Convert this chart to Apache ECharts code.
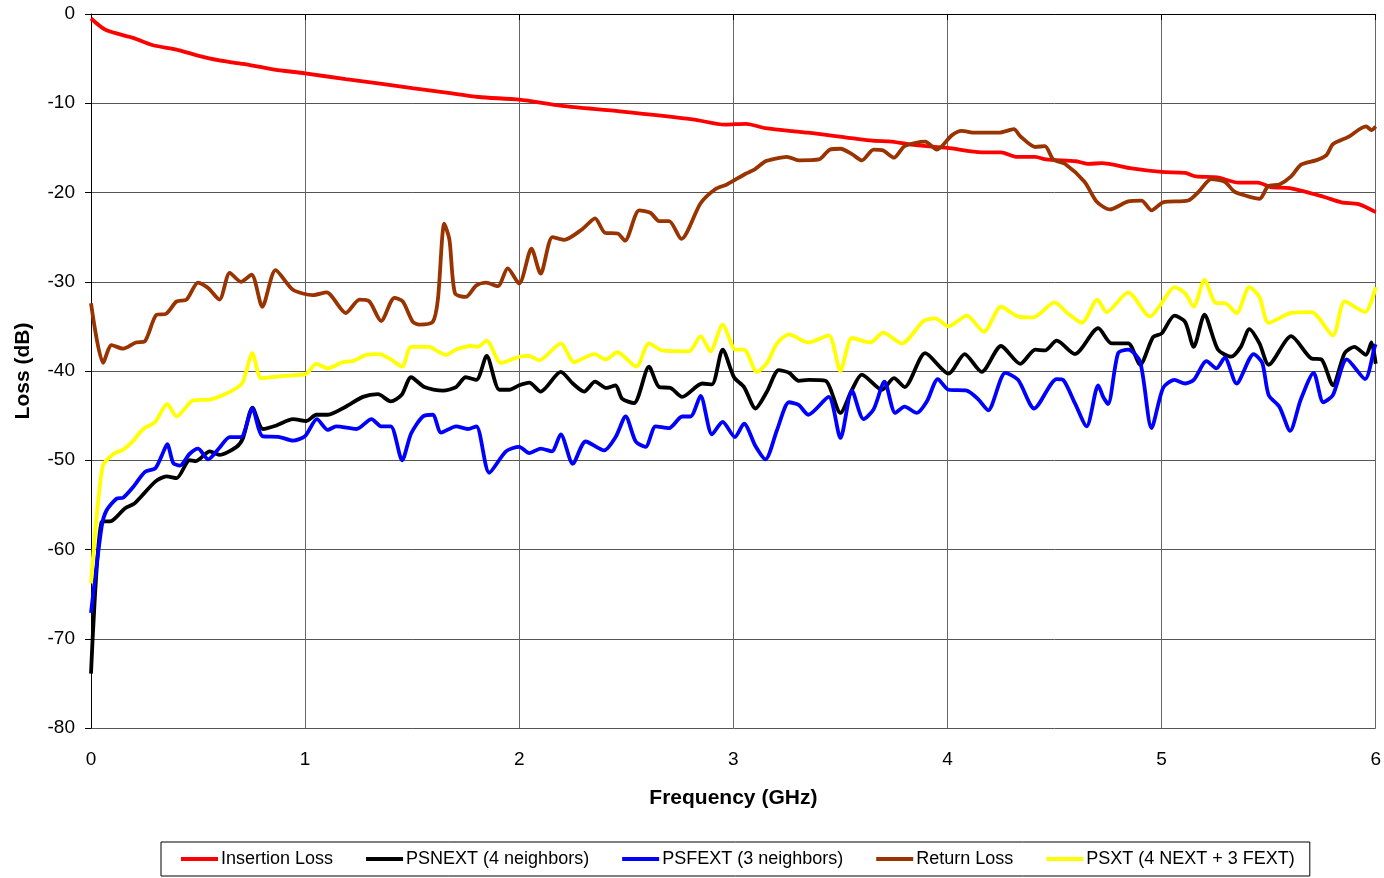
<!DOCTYPE html>
<html>
<head>
<meta charset="utf-8">
<title>Loss vs Frequency</title>
<script src="https://cdn.jsdelivr.net/npm/echarts@6/dist/echarts.min.js"></script>
<style>
  html, body { margin: 0; padding: 0; background: #fff; }
  #chart { width: 1384px; height: 878px; }
</style>
</head>
<body>
<div id="chart"></div>
<script>
// series names (legend order)
const seriesNames = ['Insertion Loss', 'PSNEXT (4 neighbors)', 'PSFEXT (3 neighbors)', 'Return Loss', 'PSXT (4 NEXT + 3 FEXT)'];

// [frequency GHz, loss dB]
const insertionLoss = [[0,-0.5],[0.07,-1.8],[0.2,-2.7],[0.29,-3.5],[0.4,-4.0],[0.49,-4.6],[0.6,-5.2],[0.71,-5.6],[0.85,-6.2],[1.0,-6.65],[1.19,-7.3],[1.35,-7.8],[1.5,-8.3],[1.66,-8.8],[1.81,-9.3],[2.0,-9.6],[2.2,-10.3],[2.47,-10.9],[2.81,-11.8],[2.96,-12.4],[3.06,-12.3],[3.15,-12.8],[3.35,-13.3],[3.65,-14.2],[3.74,-14.3],[3.85,-14.7],[4.0,-15.0],[4.16,-15.5],[4.25,-15.5],[4.32,-16.0],[4.41,-16.0],[4.46,-16.3],[4.6,-16.5],[4.66,-16.8],[4.72,-16.7],[4.86,-17.3],[5.0,-17.7],[5.11,-17.8],[5.16,-18.2],[5.26,-18.3],[5.36,-18.9],[5.45,-18.9],[5.51,-19.4],[5.6,-19.5],[5.76,-20.5],[5.84,-21.1],[5.92,-21.3],[6.0,-22.2]];

const psnext = [[0,-73.9],[0.05,-56.9],[0.096,-56.8],[0.158,-55.4],[0.205,-54.8],[0.30,-52.4],[0.353,-51.8],[0.40,-52.0],[0.46,-50.0],[0.49,-50.1],[0.555,-49.0],[0.60,-49.4],[0.68,-48.5],[0.71,-47.5],[0.754,-44.1],[0.803,-46.5],[0.866,-46.1],[0.943,-45.4],[1.006,-45.6],[1.052,-44.9],[1.106,-44.9],[1.19,-44.0],[1.27,-42.9],[1.34,-42.6],[1.40,-43.4],[1.45,-42.7],[1.495,-40.7],[1.557,-41.8],[1.643,-42.2],[1.705,-41.8],[1.75,-40.7],[1.80,-41.0],[1.848,-38.3],[1.907,-42.1],[1.953,-42.1],[2.0,-41.6],[2.047,-41.3],[2.10,-42.3],[2.194,-40.1],[2.25,-41.4],[2.303,-42.3],[2.354,-41.2],[2.407,-41.9],[2.45,-41.6],[2.48,-43.1],[2.536,-43.6],[2.606,-39.5],[2.653,-41.8],[2.707,-41.9],[2.761,-42.9],[2.855,-41.4],[2.90,-41.5],[2.95,-37.6],[3.003,-40.7],[3.05,-41.8],[3.103,-44.2],[3.157,-42.3],[3.212,-39.9],[3.26,-40.2],[3.305,-41.1],[3.35,-41.0],[3.43,-41.1],[3.50,-44.7],[3.554,-42.1],[3.60,-40.4],[3.694,-42.1],[3.75,-40.8],[3.80,-41.8],[3.896,-38.0],[4.005,-40.3],[4.08,-38.1],[4.16,-40.1],[4.25,-37.2],[4.34,-39.2],[4.41,-37.6],[4.455,-37.7],[4.51,-36.6],[4.595,-38.1],[4.704,-35.2],[4.766,-36.9],[4.844,-36.9],[4.90,-39.3],[4.96,-36.2],[5.0,-35.8],[5.06,-33.8],[5.11,-34.5],[5.15,-37.3],[5.20,-33.7],[5.263,-37.6],[5.325,-38.4],[5.37,-37.3],[5.41,-35.3],[5.457,-36.9],[5.50,-39.3],[5.605,-36.1],[5.70,-38.6],[5.746,-38.7],[5.80,-41.6],[5.855,-38.0],[5.90,-37.3],[5.955,-38.2],[5.98,-36.8],[6.0,-39.2]];

const psfext = [[0,-67.1],[0.05,-57.4],[0.073,-55.6],[0.12,-54.3],[0.15,-54.2],[0.197,-53.0],[0.252,-51.3],[0.30,-50.9],[0.33,-49.5],[0.356,-48.2],[0.384,-50.3],[0.415,-50.6],[0.46,-49.3],[0.50,-48.7],[0.547,-49.9],[0.60,-48.6],[0.648,-47.4],[0.70,-47.4],[0.754,-44.2],[0.80,-47.3],[0.88,-47.4],[0.943,-47.8],[1.0,-47.3],[1.055,-45.4],[1.106,-46.6],[1.145,-46.2],[1.24,-46.5],[1.31,-45.4],[1.355,-46.2],[1.40,-46.2],[1.453,-50.0],[1.495,-47.0],[1.55,-45.1],[1.596,-44.9],[1.635,-46.9],[1.705,-46.2],[1.76,-46.5],[1.80,-46.2],[1.86,-51.4],[1.938,-49.0],[2.0,-48.5],[2.047,-49.2],[2.10,-48.7],[2.152,-49.0],[2.194,-47.1],[2.25,-50.4],[2.31,-47.9],[2.396,-48.9],[2.45,-47.4],[2.497,-45.1],[2.544,-47.9],[2.59,-48.5],[2.637,-46.2],[2.70,-46.4],[2.761,-45.1],[2.80,-45.1],[2.847,-42.8],[2.90,-47.1],[2.95,-45.7],[3.007,-47.4],[3.05,-45.9],[3.103,-48.4],[3.15,-49.9],[3.204,-46.6],[3.26,-43.5],[3.305,-43.8],[3.35,-44.9],[3.445,-42.9],[3.50,-47.5],[3.554,-42.2],[3.608,-45.4],[3.655,-44.3],[3.706,-41.2],[3.756,-44.7],[3.80,-44.0],[3.857,-44.7],[3.904,-43.4],[3.955,-40.9],[4.005,-42.1],[4.09,-42.2],[4.145,-43.2],[4.19,-44.4],[4.27,-40.2],[4.33,-41.0],[4.405,-44.2],[4.51,-40.9],[4.54,-41.0],[4.595,-43.6],[4.65,-46.2],[4.704,-41.6],[4.727,-42.9],[4.75,-43.7],[4.797,-38.0],[4.844,-37.6],[4.90,-39.0],[4.953,-46.4],[5.007,-41.9],[5.06,-41.0],[5.11,-41.4],[5.15,-41.0],[5.21,-38.9],[5.256,-39.7],[5.295,-38.5],[5.35,-41.4],[5.43,-38.1],[5.47,-39.1],[5.50,-42.7],[5.55,-44.0],[5.60,-46.7],[5.65,-43.2],[5.71,-40.2],[5.755,-43.5],[5.80,-42.7],[5.865,-38.7],[5.95,-40.9],[5.995,-37.3],[6.0,-37.0]];

const returnLoss = [[0,-32.4],[0.057,-39.1],[0.096,-37.1],[0.15,-37.5],[0.21,-36.8],[0.25,-36.7],[0.306,-33.7],[0.35,-33.6],[0.40,-32.2],[0.446,-32.0],[0.50,-30.1],[0.547,-30.7],[0.60,-32.0],[0.648,-29.0],[0.70,-30.0],[0.75,-29.2],[0.80,-32.8],[0.862,-28.7],[0.943,-30.9],[1.037,-31.5],[1.10,-31.2],[1.19,-33.5],[1.254,-32.0],[1.30,-32.2],[1.355,-34.4],[1.417,-31.8],[1.456,-32.2],[1.503,-34.5],[1.534,-34.8],[1.596,-34.5],[1.62,-32.0],[1.65,-23.5],[1.674,-25.3],[1.70,-31.3],[1.75,-31.7],[1.80,-30.4],[1.845,-30.1],[1.90,-30.5],[1.946,-28.5],[2.0,-30.2],[2.057,-26.3],[2.1,-29.1],[2.155,-25.0],[2.21,-25.3],[2.295,-24.1],[2.354,-22.9],[2.40,-24.5],[2.46,-24.6],[2.494,-25.4],[2.56,-22.0],[2.614,-22.3],[2.653,-23.2],[2.70,-23.2],[2.757,-25.2],[2.847,-21.2],[2.917,-19.6],[2.97,-19.1],[3.057,-17.9],[3.10,-17.4],[3.15,-16.5],[3.197,-16.2],[3.25,-16.0],[3.305,-16.4],[3.40,-16.3],[3.45,-15.2],[3.50,-15.1],[3.554,-15.7],[3.60,-16.4],[3.655,-15.2],[3.70,-15.3],[3.75,-16.1],[3.80,-14.8],[3.896,-14.3],[3.95,-15.2],[4.02,-13.6],[4.066,-13.1],[4.13,-13.3],[4.24,-13.3],[4.31,-12.9],[4.34,-13.7],[4.41,-14.9],[4.455,-14.8],[4.494,-16.3],[4.55,-16.8],[4.64,-18.8],[4.696,-21.0],[4.758,-21.9],[4.844,-21.0],[4.906,-20.9],[4.953,-22.0],[5.007,-21.1],[5.124,-20.9],[5.17,-20.0],[5.232,-18.5],[5.295,-18.8],[5.34,-19.9],[5.40,-20.4],[5.458,-20.7],[5.497,-19.3],[5.55,-19.1],[5.605,-18.2],[5.65,-16.9],[5.72,-16.4],[5.77,-15.8],[5.80,-14.6],[5.87,-13.8],[5.955,-12.6],[5.98,-13.0],[6.0,-12.6]];

const psxt = [[0,-63.8],[0.054,-50.7],[0.104,-49.3],[0.15,-48.8],[0.19,-48.0],[0.244,-46.5],[0.30,-45.7],[0.356,-43.7],[0.40,-45.1],[0.477,-43.3],[0.555,-43.2],[0.617,-42.7],[0.68,-41.9],[0.71,-41.2],[0.754,-38.0],[0.795,-40.8],[0.88,-40.6],[0.943,-40.5],[1.006,-40.3],[1.052,-39.2],[1.106,-39.7],[1.176,-39.0],[1.223,-38.9],[1.285,-38.2],[1.347,-38.1],[1.40,-38.7],[1.453,-39.5],[1.495,-37.3],[1.58,-37.3],[1.62,-37.8],[1.658,-38.2],[1.705,-37.6],[1.775,-37.2],[1.806,-37.3],[1.848,-36.6],[1.915,-39.1],[2.0,-38.4],[2.046,-38.3],[2.093,-38.8],[2.194,-36.9],[2.256,-39.0],[2.35,-38.1],[2.404,-38.7],[2.458,-37.9],[2.547,-39.5],[2.606,-36.9],[2.668,-37.7],[2.793,-37.8],[2.847,-36.1],[2.893,-37.8],[2.95,-34.8],[3.01,-37.6],[3.05,-37.6],[3.11,-40.1],[3.157,-39.1],[3.204,-36.9],[3.26,-35.9],[3.35,-36.8],[3.445,-36.0],[3.50,-40.0],[3.554,-36.3],[3.64,-36.8],[3.70,-35.7],[3.787,-36.9],[3.888,-34.4],[3.943,-34.1],[4.005,-35.0],[4.09,-33.8],[4.17,-35.6],[4.25,-32.8],[4.33,-33.9],[4.40,-34.0],[4.50,-32.3],[4.56,-33.5],[4.627,-34.6],[4.70,-32.0],[4.743,-33.4],[4.844,-31.2],[4.946,-33.9],[5.0,-32.4],[5.06,-30.6],[5.11,-31.3],[5.15,-32.8],[5.20,-29.8],[5.255,-32.4],[5.295,-32.4],[5.35,-33.5],[5.41,-30.6],[5.457,-31.7],[5.50,-34.6],[5.605,-33.5],[5.70,-33.4],[5.80,-36.0],[5.855,-32.2],[5.95,-33.4],[6.0,-30.6]];

const seriesData = [insertionLoss, psnext, psfext, returnLoss, psxt];
const seriesColors = ['#ff0000', '#000000', '#0000ff', '#993300', '#ffff00'];

const font = 'Liberation Sans, Arial, sans-serif';

const myChart = echarts.init(document.getElementById('chart'));

const option = {
  backgroundColor: '#ffffff',
  animation: false,
  grid: { left: 91, right: 6, top: 14, bottom: 150 },
  legend: {
    left: 161,
    top: 842,
    padding: [8, 15, 8, 20],
    itemGap: 33,
    itemWidth: 37,
    itemHeight: 4,
    icon: 'rect',
    borderColor: '#000',
    borderWidth: 1,
    textStyle: { fontFamily: font, fontSize: 18, color: '#000', padding: [0, 0, 0, -2] },
    data: seriesNames
  },
  xAxis: {
    type: 'value',
    min: 0, max: 6, interval: 1,
    name: 'Frequency (GHz)',
    nameLocation: 'middle',
    nameGap: 60,
    nameTextStyle: { fontFamily: font, fontSize: 21, fontWeight: 'bold', color: '#000' },
    axisLine: { lineStyle: { color: '#000', width: 1 } },
    axisTick: { show: true, length: 6, lineStyle: { color: '#000' } },
    axisLabel: { fontFamily: font, fontSize: 19, color: '#000', margin: 22 },
    splitLine: { show: true, lineStyle: { color: '#666', width: 1 } }
  },
  yAxis: {
    type: 'value',
    min: -80, max: 0, interval: 10,
    name: 'Loss (dB)',
    nameLocation: 'middle',
    nameGap: 57,
    nameTextStyle: { fontFamily: font, fontSize: 21, fontWeight: 'bold', color: '#000' },
    axisLine: { show: true, onZero: false, lineStyle: { color: '#000', width: 1 } },
    axisTick: { show: true, length: 6, lineStyle: { color: '#000' } },
    axisLabel: { fontFamily: font, fontSize: 19, color: '#000', margin: 16 },
    splitLine: { show: true, lineStyle: { color: '#555', width: 1 } }
  },
  series: seriesNames.map((name, i) => ({
    name: name,
    type: 'line',
    data: seriesData[i],
    symbol: 'none',
    smooth: 0.25,
    color: seriesColors[i],
    lineStyle: { color: seriesColors[i], width: 3.8 }
  }))
};

myChart.setOption(option);
</script>
</body>
</html>
